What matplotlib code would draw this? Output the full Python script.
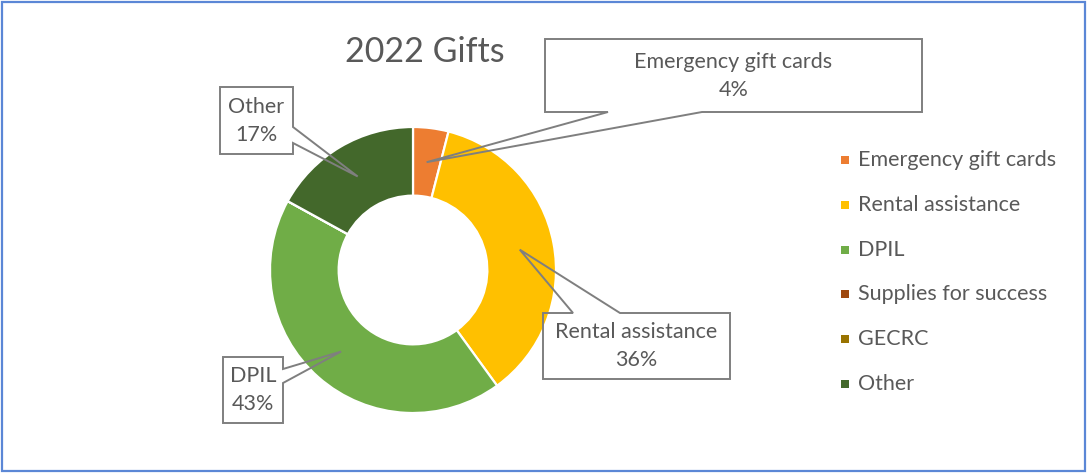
import numpy as np
import matplotlib
matplotlib.use("Agg")
import matplotlib.pyplot as plt
from matplotlib.patches import Polygon, Rectangle

# ---- data ----
title = "2022 Gifts"
categories = ["Emergency gift cards", "Rental assistance", "DPIL",
              "Supplies for success", "GECRC", "Other"]
values = [4, 36, 43, 0, 0, 17]
colors = ["#ED7D31", "#FFC000", "#70AD47", "#9E480E", "#997300", "#43682B"]

W, H = 1087, 473
plt.rcParams['font.family'] = ['Lato', 'DejaVu Sans']
TXT = "#595959"
EDGE = "#7F7F7F"
FS = 15.5

fig = plt.figure(figsize=(W / 100, H / 100), dpi=100)

# pie axes: center (413, 270) px, radius 143 px
cx, cy, R = 413, 270, 143
ax = fig.add_axes([(cx - R) / W, (H - cy - R) / H, 2 * R / W, 2 * R / H])
hole = 0.52
wedges, _ = ax.pie(values, colors=colors, startangle=90, counterclock=False,
                   radius=1.0,
                   wedgeprops=dict(width=1 - hole, edgecolor="white", linewidth=1.6))
ax.set_xlim(-1, 1)
ax.set_ylim(-1, 1)
ax.set_aspect("equal")
ax.axis("off")

# overlay in pixel coords
ov = fig.add_axes([0, 0, 1, 1], zorder=5)
ov.set_xlim(0, W)
ov.set_ylim(H, 0)
ov.axis("off")
ov.patch.set_alpha(0)

total = sum(values)
def tip_for(i):
    start = sum(values[:i]) / total
    mid = (start + values[i] / total / 2) * 2 * np.pi
    ang = np.pi / 2 - mid
    r = (1 + hole) / 2
    px = ax.transData.transform((r * np.cos(ang), r * np.sin(ang)))
    return ov.transData.inverted().transform(px)

def callout(i, box, side, a1, a2):
    L, T, Rr, B = box
    tx, ty = tip_for(i)
    if side == "bottom":
        verts = [(L, T), (Rr, T), (Rr, B), (a2, B), (tx, ty), (a1, B), (L, B)]
    elif side == "top":
        verts = [(L, T), (a1, T), (tx, ty), (a2, T), (Rr, T), (Rr, B), (L, B)]
    else:  # right
        verts = [(L, T), (Rr, T), (Rr, a1), (tx, ty), (Rr, a2), (Rr, B), (L, B)]
    ov.add_patch(Polygon(verts, closed=True, facecolor="none", edgecolor=EDGE,
                         linewidth=1.4, joinstyle="miter"))
    xc = (L + Rr) / 2
    yc = (T + B) / 2
    pct = f"{round(values[i] / total * 100)}%"
    ov.text(xc, yc - 14, categories[i], ha="center", va="center",
            fontsize=FS, color=TXT)
    ov.text(xc, yc + 14, pct, ha="center", va="center", fontsize=FS, color=TXT)

callout(0, (545, 39, 922, 112), "bottom", 608, 702)
callout(1, (543, 313, 730, 379), "top", 573, 620)
callout(2, (223, 357, 283, 423), "right", 369, 383)
callout(5, (220, 87, 293, 154), "right", 127, 143)

# title
ov.text(425, 52, title, ha="center", va="center", fontsize=24.5, color=TXT)

# legend
ly0, dy = 160, 44.8
for k, (lab, col) in enumerate(zip(categories, colors)):
    y = ly0 + k * dy
    ov.add_patch(Rectangle((841, y - 4), 8, 8, facecolor=col, edgecolor="none"))
    ov.text(858, y, lab, ha="left", va="center", fontsize=FS, color=TXT)

# outer border
ov.add_patch(Rectangle((2, 2), W - 4, H - 4, facecolor="none",
                       edgecolor="#5B87D6", linewidth=1.6))

fig.savefig("out.png", dpi=100)
